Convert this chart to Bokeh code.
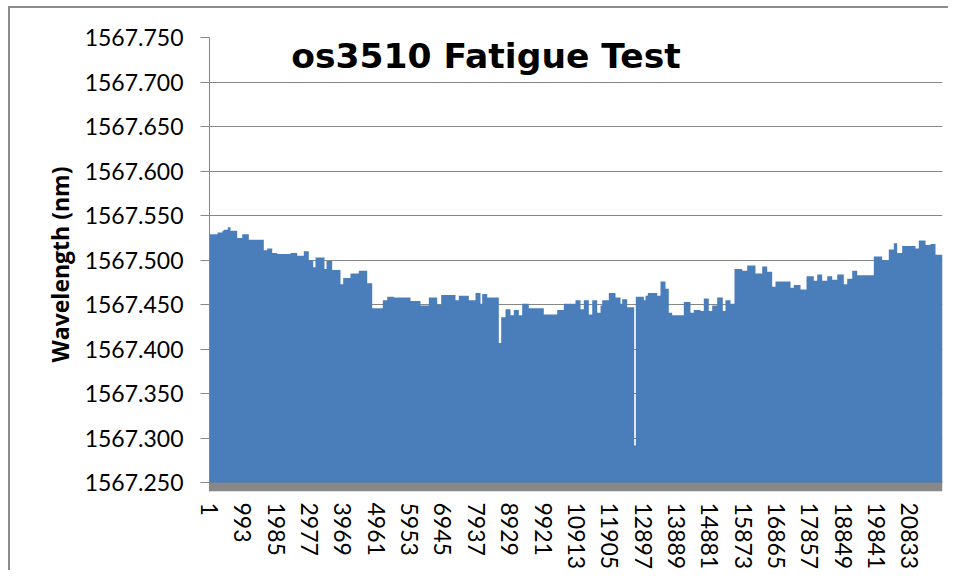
from bokeh.plotting import figure
from bokeh.models import Range1d, FixedTicker, Label, ColumnDataSource
from bokeh.embed import file_html
from bokeh.resources import INLINE

# ---- data (sample number where each level starts, wavelength in nm)
cycle_start = [1, 239, 388, 426, 545, 625, 825, 974, 1170, 1616, 1717, 1866, 2014, 2410,
               2609, 2805, 2954, 3085, 3153, 3421, 3481, 3650, 3897, 3977, 4194, 4441,
               4691, 4840, 5155, 5286, 5482, 5979, 6276, 6523, 6773, 6892, 7317, 7415,
               7713, 7912, 8060, 8111, 8260, 8605, 8676, 8804, 8953, 9051, 9200, 9300,
               9497, 9943, 10342, 10538, 10886, 11035, 11133, 11282, 11383, 11531, 11630,
               11680, 11876, 12075, 12224, 12274, 12423, 12631, 12679, 12917, 12967, 13036,
               13315, 13413, 13562, 13660, 13761, 14106, 14305, 14403, 14603, 14701, 14850,
               14951, 15099, 15266, 15346, 15495, 15614, 15843, 15992, 16238, 16438, 16587,
               16735, 16833, 17280, 17378, 17578, 17756, 17973, 18074, 18222, 18371, 18520,
               18669, 18865, 18966, 19115, 19263, 19757, 20007, 20203, 20352, 20452, 20601,
               20997, 21095, 21295, 21443, 21592]
wavelength = [1567.529, 1567.531, 1567.533, 1567.534, 1567.537, 1567.533, 1567.525, 1567.529,
              1567.523, 1567.511, 1567.513, 1567.508, 1567.507, 1567.508, 1567.505, 1567.510,
              1567.500, 1567.492, 1567.503, 1567.490, 1567.499, 1567.489, 1567.473, 1567.480,
              1567.485, 1567.488, 1567.474, 1567.446, 1567.455, 1567.459, 1567.458, 1567.454,
              1567.449, 1567.458, 1567.450, 1567.461, 1567.455, 1567.460, 1567.455, 1567.463,
              1567.451, 1567.462, 1567.458, 1567.407, 1567.436, 1567.445, 1567.438, 1567.444,
              1567.438, 1567.451, 1567.446, 1567.439, 1567.444, 1567.451, 1567.455, 1567.445,
              1567.455, 1567.439, 1567.455, 1567.441, 1567.449, 1567.455, 1567.463, 1567.458,
              1567.451, 1567.456, 1567.447, 1567.292, 1567.459, 1567.455, 1567.460, 1567.463,
              1567.460, 1567.476, 1567.468, 1567.441, 1567.438, 1567.453, 1567.441, 1567.444,
              1567.443, 1567.457, 1567.443, 1567.449, 1567.458, 1567.443, 1567.455, 1567.451,
              1567.490, 1567.488, 1567.494, 1567.485, 1567.493, 1567.487, 1567.470, 1567.476,
              1567.469, 1567.472, 1567.467, 1567.482, 1567.477, 1567.484, 1567.477, 1567.482,
              1567.478, 1567.484, 1567.473, 1567.479, 1567.488, 1567.483, 1567.504, 1567.500,
              1567.512, 1567.519, 1567.508, 1567.516, 1567.513, 1567.522, 1567.517, 1567.518,
              1567.506]
last_sample = 21800

x_tick_labels = ["1", "993", "1985", "2977", "3969", "4961", "5953", "6945", "7937", "8929",
                 "9921", "10913", "11905", "12897", "13889", "14881", "15873", "16865",
                 "17857", "18849", "19841", "20833"]
y_tick_labels = ["1567.250", "1567.300", "1567.350", "1567.400", "1567.450", "1567.500",
                 "1567.550", "1567.600", "1567.650", "1567.700", "1567.750"]
title_text = "os3510 Fatigue Test"
y_axis_title = "Wavelength (nm)"

# ---- derived
x_ticks = [int(s) for s in x_tick_labels]
y_ticks = [float(s) for s in y_tick_labels]
y_floor = y_ticks[0]
y_top = y_ticks[-1]
PX_PER_UNIT = 890.6
y_bottom = y_top - 454 / PX_PER_UNIT  # leaves room for the grey axis band

src = ColumnDataSource(dict(
    x=cycle_start + [last_sample],
    y2=wavelength + [wavelength[-1]],
    y1=[y_floor] * (len(wavelength) + 1),
))

FONT = "Lato"
GREY = "#868686"

p = figure(width=940, height=564, output_backend="svg", toolbar_location=None,
           x_range=Range1d(1, last_sample), y_range=Range1d(y_bottom, y_top),
           min_border_left=199, min_border_right=8, min_border_top=29, min_border_bottom=81,
           styles={"border-left": "2px solid #8c8c8c", "border-top": "2px solid #8c8c8c",
                   "margin-left": "8px", "margin-top": "6px"})
p.outline_line_color = None
p.background_fill_color = "white"
p.border_fill_color = "white"

p.varea_step(x="x", y1="y1", y2="y2", step_mode="after", source=src, fill_color="#4A7EBB")
# grey horizontal axis band
p.quad(left=[1], right=[last_sample], bottom=[y_bottom], top=[y_floor],
       fill_color="#888888", line_color=None)

# y axis
p.yaxis.ticker = FixedTicker(ticks=y_ticks)
p.yaxis.major_label_overrides = {t: s for t, s in zip(y_ticks, y_tick_labels)}
p.yaxis.major_label_text_font = FONT
p.yaxis.major_label_text_font_size = "23px"
p.yaxis.major_label_text_color = "#000000"
p.yaxis.major_tick_out = 9
p.yaxis.major_tick_in = 0
p.yaxis.minor_tick_line_color = None
p.yaxis.major_tick_line_color = GREY
p.yaxis.axis_line_color = GREY
p.yaxis.major_label_standoff = 17
p.yaxis.axis_label = y_axis_title
p.yaxis.axis_label_text_font = "Open Sans"
p.yaxis.axis_label_text_font_style = "bold"
p.yaxis.axis_label_text_font_size = "23px"
p.yaxis.axis_label_text_color = "#000000"
p.yaxis.axis_label_standoff = 6

# x axis
p.xaxis.ticker = FixedTicker(ticks=x_ticks)
p.xaxis.major_label_overrides = {t: s for t, s in zip(x_ticks, x_tick_labels)}
p.xaxis.major_label_orientation = "vertical"
p.xaxis.major_label_text_font = FONT
p.xaxis.major_label_text_font_size = "23px"
p.xaxis.major_label_text_color = "#000000"
p.xaxis.major_label_standoff = 5
p.xaxis.axis_line_color = None
p.xaxis.major_tick_line_color = None
p.xaxis.minor_tick_line_color = None

# grid
p.xgrid.grid_line_color = None
p.ygrid.ticker = FixedTicker(ticks=y_ticks)
p.ygrid.grid_line_color = GREY
p.ygrid.grid_line_width = 1

# title inside the plot area
p.add_layout(Label(x=8224, y=y_top - 18 / PX_PER_UNIT, text=title_text, text_font="DejaVu Sans",
                   text_font_style="bold", text_font_size="34.5px", text_align="center",
                   text_baseline="alphabetic", text_color="#000000"))

open("out.html", "w").write(file_html(p, INLINE))
